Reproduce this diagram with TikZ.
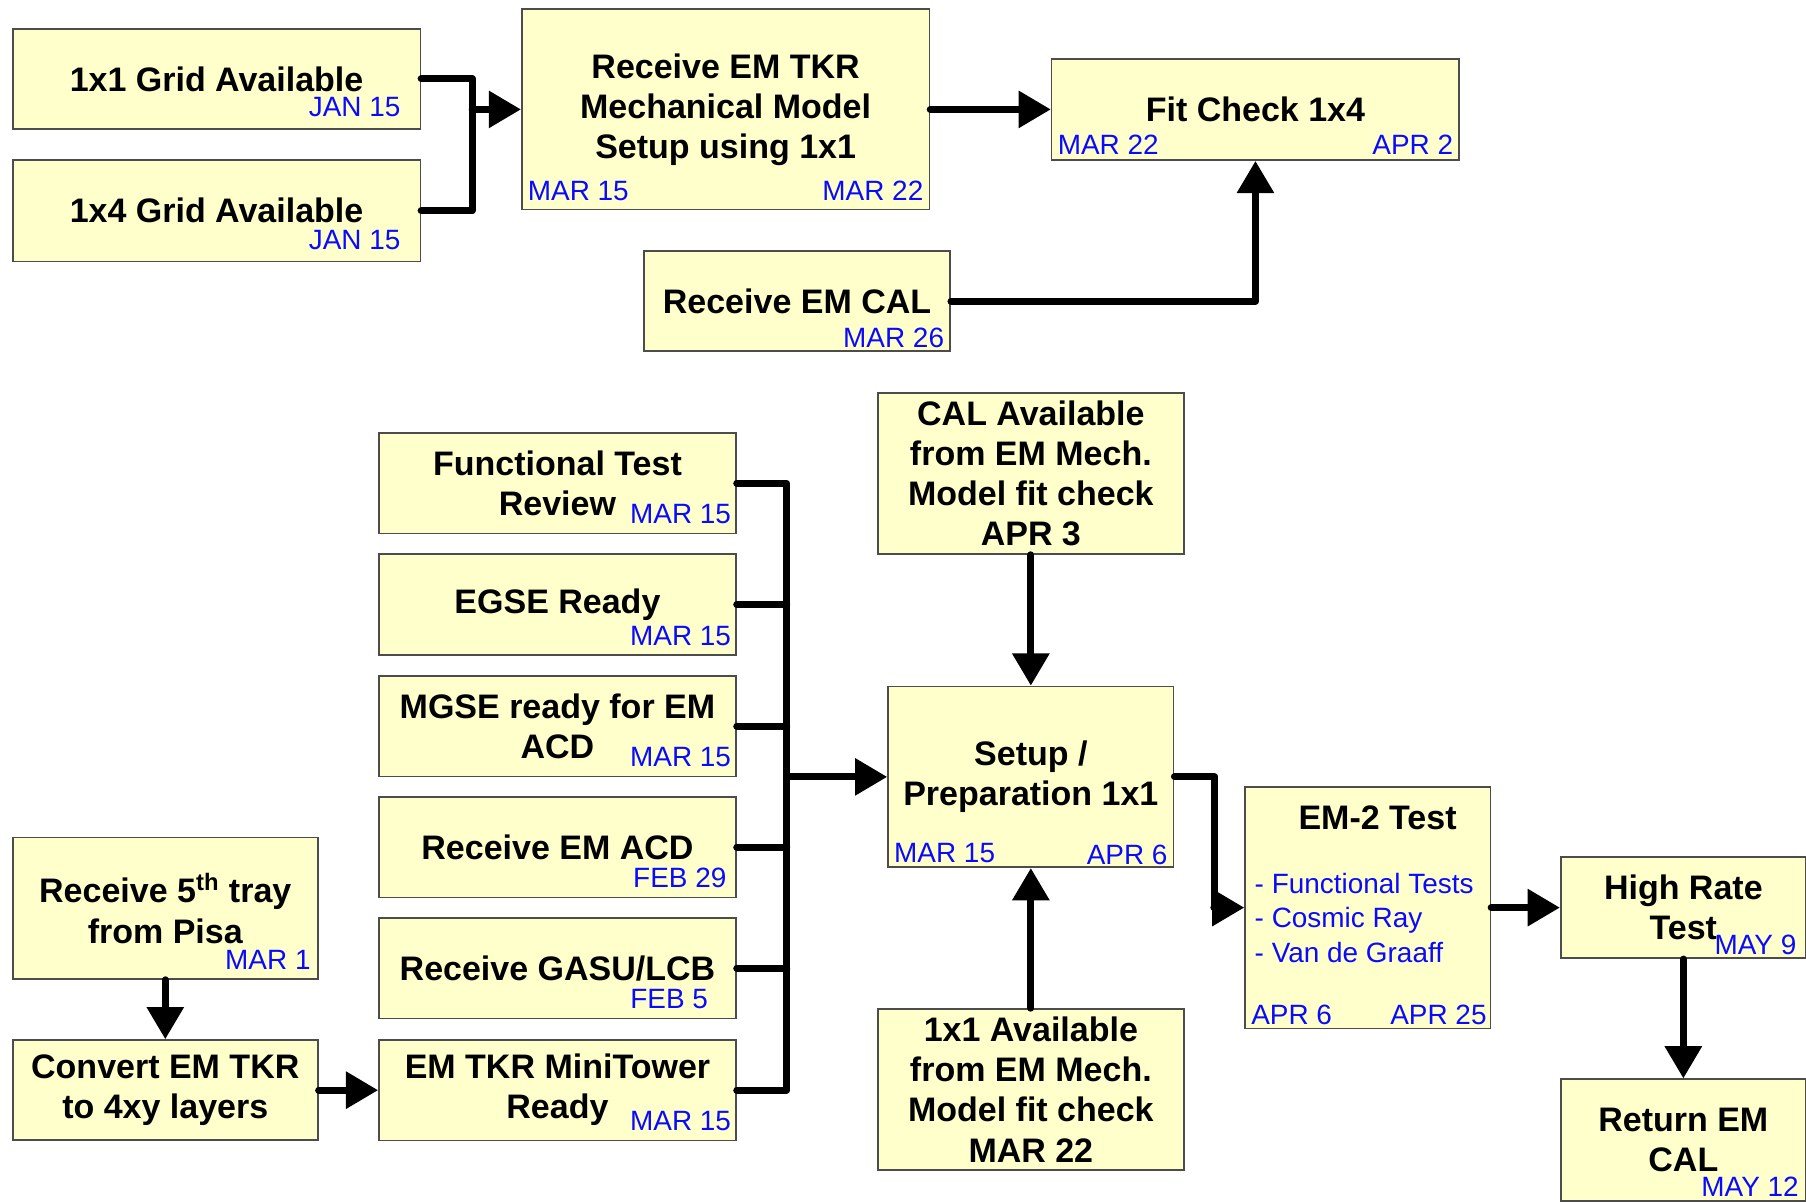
\documentclass[tikz,border=0pt]{standalone}
\usepackage{fontspec}
\setmainfont{Liberation Sans}
\usepackage{tikz}
\usetikzlibrary{calc,arrows.meta}
\definecolor{boxfill}{RGB}{255,255,204}
\definecolor{datecol}{RGB}{10,10,255}
\tikzset{
  box/.style={draw=black!70, line width=0.8pt, fill=boxfill, inner sep=2pt, align=center,
    font=\bfseries\fontsize{16.8}{19.8}\selectfont},
  titletext/.style={inner sep=0pt, font=\bfseries\fontsize{16.8}{19.8}\selectfont},
  datetext/.style={text=datecol, inner sep=0pt, font=\fontsize{13.8}{17}\selectfont},
  wire/.style={line width=3.5pt, line cap=round, line join=round},
  flow/.style={wire, -{Triangle[length=0.56cm,width=0.62cm]}}
}

\begin{document}
\begin{tikzpicture}[x=0.02cm,y=-0.02cm]
  \useasboundingbox (0,0) rectangle (1568,1043);

  % top part
  \node[box, minimum width=7.08cm, minimum height=1.74cm] (g11) at (188,68.5) {1x1 Grid Available};
  \node[datetext, anchor=east] (g11-d) at (348,93) {JAN 15};
  \node[box, minimum width=7.08cm, minimum height=1.76cm] (g14) at (188,183) {1x4 Grid Available};
  \node[datetext, anchor=east] (g14-d) at (348,208) {JAN 15};
  \node[box, minimum width=7.08cm, minimum height=3.48cm] (tkr) at (630,95)
    {Receive EM TKR\\Mechanical Model\\Setup using 1x1};
  \node[datetext, anchor=west] (tkr-d1) at (458,166) {MAR 15};
  \node[datetext, anchor=east] (tkr-d2) at (802,166) {MAR 22};
  \node[box, minimum width=7.08cm, minimum height=1.76cm] (fit) at (1090,95) {Fit Check 1x4};
  \node[datetext, anchor=west] (fit-d1) at (918,126) {MAR 22};
  \node[datetext, anchor=east] (fit-d2) at (1262,126) {APR 2};
  \node[box, minimum width=5.32cm, minimum height=1.74cm] (cal) at (692,261.5) {Receive EM CAL};
  \node[datetext, anchor=east] (cal-d) at (820,293) {MAR 26};

  \coordinate (j1) at (410,0);
  \draw[wire] (g11.east) -| (j1 |- g14.east) -- (g14.east);
  \draw[flow] (j1 |- tkr.west) -- (tkr.west);
  \draw[flow] (tkr.east) -- (fit.west);
  \draw[flow] (cal.east) -| (fit.south);

  % left column
  \foreach \n/\y/\t/\d/\dx in {ftr/419.5/{Functional Test\\Review}/MAR 15/635,
      egse/525/EGSE Ready/MAR 15/635, mgse/630.5/{MGSE ready for EM\\ACD}/MAR 15/635,
      acd/735.5/Receive EM ACD/FEB 29/631, gasu/840.5/{Receive GASU/LCB}/FEB 5/615,
      mini/946.5/{EM TKR MiniTower\\Ready}/MAR 15/635}
  {
    \node[box, minimum width=6.2cm, minimum height=1.75cm] (\n) at (484,\y) {\t};
    \node[datetext, anchor=east] (\n-d) at (\dx,\y+27) {\d};
  }

  \node[box, minimum width=5.3cm, minimum height=2.46cm] (pisa) at (143.5,788.5)
    {Receive 5\textsuperscript{th} tray\\from Pisa};
  \node[datetext, anchor=east] (pisa-d) at (270,833) {MAR 1};
  \node[box, minimum width=5.3cm, minimum height=1.74cm] (conv) at (143.5,946.5)
    {Convert EM TKR\\to 4xy layers};

  % middle and right
  \node[box, minimum width=5.32cm, minimum height=2.8cm] (calav) at (895,411)
    {CAL Available\\from EM Mech.\\Model fit check\\APR 3};
  \node[box, minimum width=4.96cm, minimum height=3.14cm] (setup) at (895,674.5)
    {Setup /\\Preparation 1x1};
  \node[datetext, anchor=west] (setup-d1) at (776,741) {MAR 15};
  \node[datetext, anchor=east] (setup-d2) at (1014,742) {APR 6};
  \node[box, minimum width=5.32cm, minimum height=2.8cm] (av11) at (895,946)
    {1x1 Available\\from EM Mech.\\Model fit check\\MAR 22};

  \node[box, minimum width=4.26cm, minimum height=4.2cm] (em2) at (1187.5,788) {};
  \node[titletext] (em2-t) at (1196,710) {EM-2 Test};
  \node[datetext, anchor=west, align=left] (em2-l) at (1089,797)
    {- Functional Tests\\- Cosmic Ray\\- Van de Graaff};
  \node[datetext, anchor=west] (em2-d1) at (1086,881) {APR 6};
  \node[datetext, anchor=east] (em2-d2) at (1291,881) {APR 25};

  \node[box, minimum width=4.26cm, minimum height=1.76cm] (hrt) at (1461.5,788) {High Rate\\Test};
  \node[datetext, anchor=east] (hrt-d) at (1560,820) {MAY 9};
  \node[box, minimum width=4.26cm, minimum height=2.12cm] (ret) at (1461.5,990) {Return EM\\CAL};
  \node[datetext, anchor=east] (ret-d) at (1562,1030) {MAY 12};

  \coordinate (bus) at (683,0);
  \foreach \n in {egse,mgse,acd,gasu}
    \draw[wire] (\n.east) -- (\n.east -| bus);
  \draw[wire] (ftr.east) -| (bus |- mini.east) -- (mini.east);
  \draw[flow] (bus |- setup.west) -- (setup.west);
  \draw[flow] (calav.south) -- (setup.north);
  \draw[flow] (av11.north) -- (setup.south);
  \draw[flow] (setup.east) -- ++(35,0) |- (em2.west);
  \draw[flow] (em2.east) -- (hrt.west);
  \draw[flow] (hrt.south) -- (ret.north);
  \draw[flow] (pisa.south) -- (conv.north);
  \draw[flow] (conv.east) -- (mini.west);
\end{tikzpicture}
\end{document}
